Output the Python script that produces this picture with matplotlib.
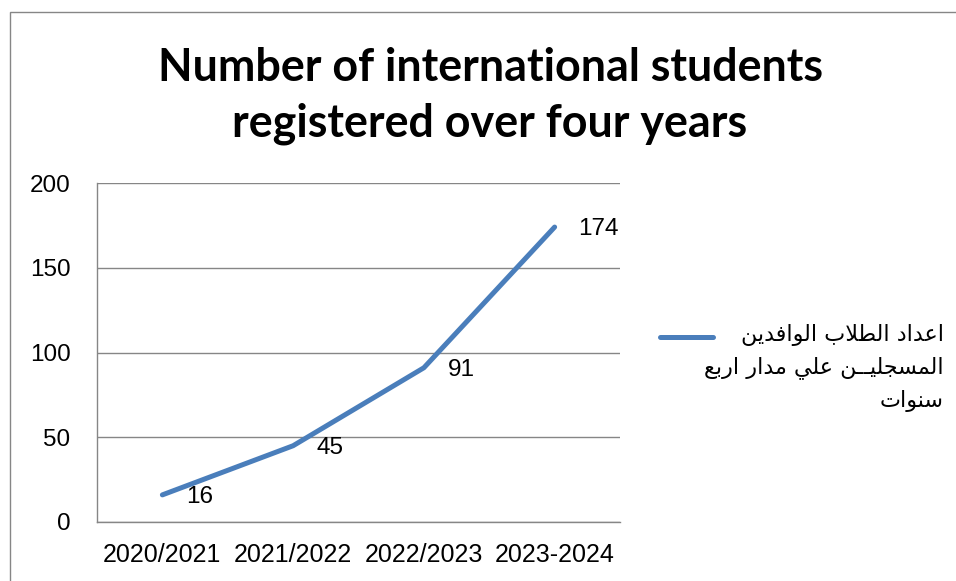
import matplotlib
matplotlib.use("Agg")
import matplotlib.pyplot as plt
from matplotlib.patches import Rectangle
from matplotlib.lines import Line2D

# ---------------- data ----------------
categories = ["2020/2021", "2021/2022", "2022/2023", "2023-2024"]
values = [16, 45, 91, 174]
y_ticks = [0, 50, 100, 150, 200]
title_text = "Number of international students\nregistered over four years"
legend_lines = ["اعداد الطلاب الوافدين", "المسجليــن علي مدار اربع", "سنوات"]

# ------------- minimal Arabic shaping (presentation forms) -------------
FORMS = {  # iso, fin, ini, med
    "ا": ("\uFE8D", "\uFE8E", None, None),
    "ب": ("\uFE8F", "\uFE90", "\uFE91", "\uFE92"),
    "ت": ("\uFE95", "\uFE96", "\uFE97", "\uFE98"),
    "ج": ("\uFE9D", "\uFE9E", "\uFE9F", "\uFEA0"),
    "د": ("\uFEA9", "\uFEAA", None, None),
    "ر": ("\uFEAD", "\uFEAE", None, None),
    "س": ("\uFEB1", "\uFEB2", "\uFEB3", "\uFEB4"),
    "ط": ("\uFEC1", "\uFEC2", "\uFEC3", "\uFEC4"),
    "ع": ("\uFEC9", "\uFECA", "\uFECB", "\uFECC"),
    "ف": ("\uFED1", "\uFED2", "\uFED3", "\uFED4"),
    "ل": ("\uFEDD", "\uFEDE", "\uFEDF", "\uFEE0"),
    "م": ("\uFEE1", "\uFEE2", "\uFEE3", "\uFEE4"),
    "ن": ("\uFEE5", "\uFEE6", "\uFEE7", "\uFEE8"),
    "و": ("\uFEED", "\uFEEE", None, None),
    "ي": ("\uFEF1", "\uFEF2", "\uFEF3", "\uFEF4"),
    "ـ": ("\u0640", "\u0640", "\u0640", "\u0640"),
}


def dual(c):
    return c in FORMS and FORMS[c][2] is not None


def joins(c):
    return c in FORMS


def shape(text):
    out = []
    chars = list(text)
    i = 0
    n = len(chars)
    while i < n:
        c = chars[i]
        prev = chars[i - 1] if i > 0 else None
        nxt = chars[i + 1] if i + 1 < n else None
        if c not in FORMS:
            out.append(c)
            i += 1
            continue
        jp = prev is not None and dual(prev)
        if c == "ل" and nxt == "ا":
            out.append("\uFEFC" if jp else "\uFEFB")
            i += 2
            continue
        jn = dual(c) and nxt is not None and joins(nxt)
        iso, fin, ini, med = FORMS[c]
        if jp and jn:
            out.append(med)
        elif jp:
            out.append(fin)
        elif jn:
            out.append(ini)
        else:
            out.append(iso)
        i += 1
    return "".join(out)[::-1]


# ---------------- figure ----------------
W, H = 956, 581
fig = plt.figure(figsize=(W / 100, H / 100), dpi=100)
fig.patch.set_facecolor("white")

grey = "#868686"
line_color = "#4A7EBB"

# outer chart-area border (right/bottom edges outside the picture)
fig.add_artist(Rectangle((10 / W, -0.05), 1.2, 1 - 12 / H + 0.05,
                         transform=fig.transFigure, fill=False,
                         edgecolor=grey, linewidth=1.0, clip_on=False))

ax = fig.add_axes([97 / W, 1 - 522 / H, (620 - 97) / W, (522 - 183) / H])
x = list(range(len(categories)))
ax.plot(x, values, color=line_color, linewidth=3.6, solid_capstyle="round",
        solid_joinstyle="round", zorder=3)

for xi, v in zip(x, values):
    ax.annotate(str(v), (xi, v), xytext=(17, -1.5), textcoords="offset points",
                ha="left", va="center", fontsize=17.5, family="Liberation Sans",
                color="black", zorder=4)

ax.set_xlim(-0.5, len(categories) - 0.5)
ax.set_ylim(0, 200)
ax.set_yticks(y_ticks)
ax.set_yticklabels([str(t) for t in y_ticks])
ax.set_xticks(x)
ax.set_xticklabels(categories)
ax.yaxis.grid(True, color=grey, linewidth=1.0)
ax.set_axisbelow(True)
for s in ["top", "right"]:
    ax.spines[s].set_visible(False)
for s in ["left", "bottom"]:
    ax.spines[s].set_color(grey)
    ax.spines[s].set_linewidth(1.0)
ax.tick_params(axis="both", length=0, labelsize=17.5, colors="black")
ax.tick_params(axis="y", pad=19)
ax.tick_params(axis="x", pad=15, labelsize=18)
for lab in ax.get_xticklabels() + ax.get_yticklabels():
    lab.set_family("Liberation Sans")

# title
fig.text(490 / W, 1 - 96 / H, title_text, ha="center", va="center",
         fontsize=32.3, fontweight="bold", family="Lato", linespacing=1.38)

# legend
fig.add_artist(Line2D([660 / W, 713 / W], [1 - 337 / H, 1 - 337 / H],
                      transform=fig.transFigure, color=line_color,
                      linewidth=3.6, solid_capstyle="round"))
fig.text(944 / W, 1 - 368 / H, "\n".join(shape(l) for l in legend_lines),
         ha="right", va="center", multialignment="right", fontsize=16,
         family="DejaVu Sans", linespacing=1.6)

fig.savefig("out.png", dpi=100)
